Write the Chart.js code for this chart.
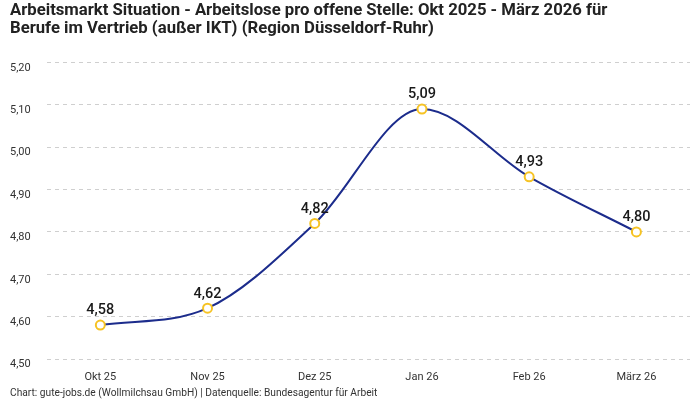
<!DOCTYPE html>
<html><head><meta charset="utf-8">
<script src="https://cdn.jsdelivr.net/npm/chart.js@4"></script>
<style>html,body{margin:0;padding:0;background:#fff}#wrap{width:700px;height:400px}</style>
</head><body><div id="wrap"><canvas id="c"></canvas></div>
<script>
const categories = ["Okt 25","Nov 25","Dez 25","Jan 26","Feb 26","März 26"];
const values = [4.58, 4.62, 4.82, 5.09, 4.93, 4.80];
const titleLines = ["Arbeitsmarkt Situation - Arbeitslose pro offene Stelle: Okt 2025 - März 2026 für","Berufe im Vertrieb (außer IKT) (Region Düsseldorf-Ruhr)"];
const footerText = "Chart: gute-jobs.de (Wollmilchsau GmbH) | Datenquelle: Bundesagentur für Arbeit";
const fmt = v => v.toFixed(2).replace('.', ',');
const FONT = "Roboto, 'Noto Sans', sans-serif";

const labelPlugin = {
  id: 'valLabels',
  afterDatasetsDraw(chart) {
    const ctx = chart.ctx;
    const meta = chart.getDatasetMeta(0);
    ctx.save();
    ctx.font = "500 14.5px " + FONT;
    ctx.fillStyle = "#1a1a1a";
    ctx.textAlign = "center";
    ctx.textBaseline = "bottom";
    meta.data.forEach((pt, i) => {
      ctx.fillText(fmt(values[i]), pt.x, pt.y - 7);
    });
    ctx.restore();
  },
  afterDraw(chart) {
    const ctx = chart.ctx;
    ctx.save();
    ctx.font = "10.2px " + FONT;
    ctx.fillStyle = "#333";
    ctx.textAlign = "left";
    ctx.textBaseline = "middle";
    ctx.fillText(footerText, 10, chart.height - 7);
    ctx.restore();
  }
};

new Chart(document.getElementById('c'), {
  type: 'line',
  data: {
    labels: categories,
    datasets: [{
      data: values,
      borderColor: '#1c2c8c',
      borderWidth: 2,
      cubicInterpolationMode: 'monotone',
      pointRadius: 4.5,
      pointHoverRadius: 4.5,
      pointBackgroundColor: '#fff',
      pointBorderColor: '#f6c324',
      pointBorderWidth: 2,
      fill: false
    }]
  },
  options: {
    responsive: true,
    maintainAspectRatio: false,
    animation: false,
    layout: { padding: { left: 10, right: 10, top: 0, bottom: 4 } },
    plugins: {
      legend: { display: false },
      tooltip: { enabled: false },
      title: {
        display: true, text: titleLines, align: 'start',
        color: '#222', font: { family: FONT, size: 16.7, weight: 'bold', lineHeight: 1.12 },
        padding: { top: 1, bottom: 24 }
      }
    },
    scales: {
      x: {
        offset: true,
        grid: { display: false, drawTicks: false },
        border: { display: false },
        ticks: { color: '#333', font: { family: FONT, size: 11, lineHeight: 1.0 }, padding: 13 }
      },
      y: {
        min: 4.5, max: 5.2,
        grid: { color: '#cfcfcf', drawTicks: false },
        border: { display: false, dash: [4, 4] },
        ticks: { stepSize: 0.1, color: '#333', font: { family: FONT, size: 11 }, padding: 8,
          callback: v => fmt(v), align: 'start', crossAlign: 'far' }
      }
    }
  },
  plugins: [labelPlugin]
});
</script></body></html>
